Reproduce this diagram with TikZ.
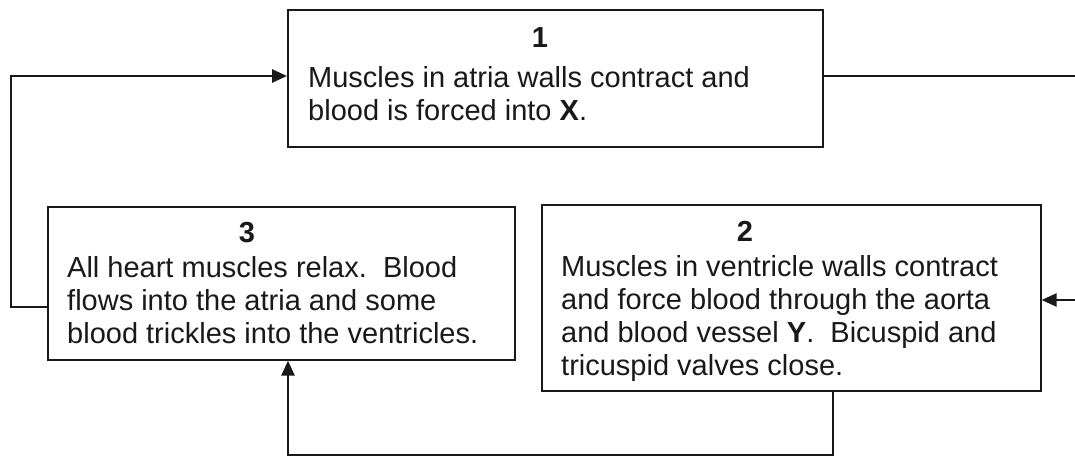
\documentclass[tikz,border=0pt]{standalone}
\usepackage{fontspec}
\setmainfont{Liberation Sans}
\usetikzlibrary{arrows.meta}
\begin{document}
\begin{tikzpicture}[x=1pt,y=-1pt,
  stepbox/.style={draw=black!90, line width=1.6pt, rectangle, inner sep=0pt, anchor=north west},
  txt/.style={align=left, inner sep=0pt, anchor=north west, font=\fontsize{29}{33}\selectfont, text=black!90},
  num/.style={inner sep=0pt, anchor=base, font=\fontsize{29}{33}\selectfont\bfseries, text=black!90},
  conn/.style={draw=black!90, line width=2.6pt},
  arr/.style={conn, -{Triangle[length=15pt,width=13pt]}}]
\useasboundingbox (0,0) rectangle (1075,457);
\fill[white] (0,0) rectangle (1075,457);
% boxes
\node[stepbox, minimum width=535, minimum height=137] (b1) at (287,9) {};
\node[stepbox, minimum width=467, minimum height=153] (b3) at (47,206) {};
\node[stepbox, minimum width=499, minimum height=186] (b2) at (541,204) {};
% texts
\node[num] (n1) at (540,48) {1};
\node[txt] (t1) at (308,66) {Muscles in atria walls contract and\\blood is forced into \textbf{X}.};
\node[num] (n3) at (247,242) {3};
\node[txt] (t3) at (67,256) {All heart muscles relax.\ \ Blood\\flows into the atria and some\\blood trickles into the ventricles.};
\node[num] (n2) at (745,241) {2};
\node[txt] (t2) at (561,255) {Muscles in ventricle walls contract\\and force blood through the aorta\\and blood vessel \textbf{Y}.\ \ Bicuspid and\\tricuspid valves close.};
% connector helpers
\coordinate (lc1) at (11,307);
\coordinate (lc2) at (11,76);
\coordinate (rc1) at (1085,76);
\coordinate (rc2) at (1085,300);
\coordinate (bc1) at (833,455);
\coordinate (bc2) at (288,455);
% connectors
\draw[arr] (b3.west |- lc1) -- (lc1) -- (lc2) -- (b1.west |- lc2);
\draw[arr] (b1.east |- rc1) -- (rc1) -- (rc2) -- (b2.east |- rc2);
\draw[arr] (b2.south -| bc1) -- (bc1) -- (bc2) -- (b3.south -| bc2);
\end{tikzpicture}
\end{document}
